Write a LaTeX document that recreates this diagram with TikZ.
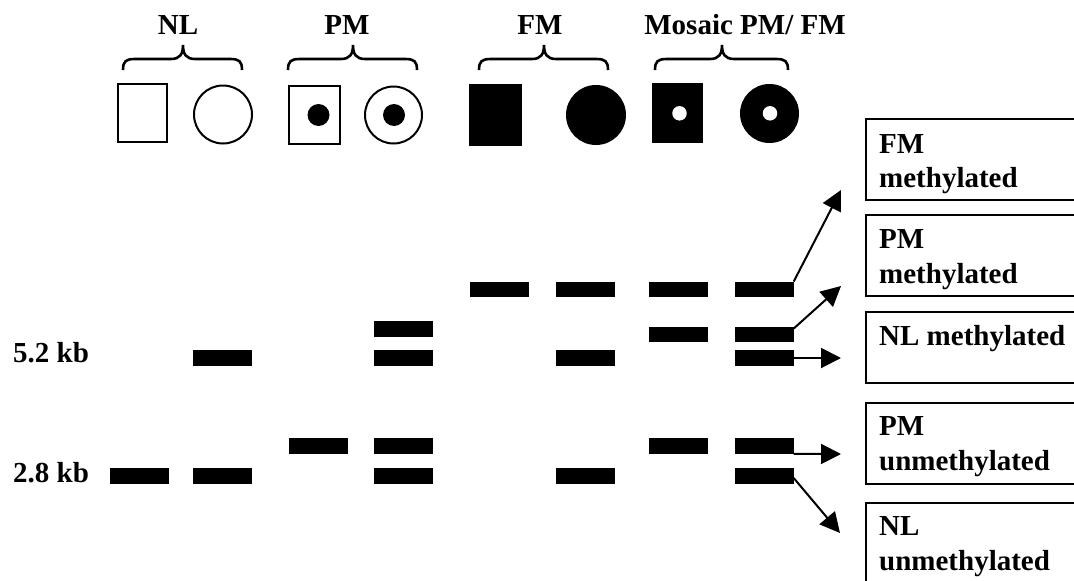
\documentclass[tikz,border=0pt]{standalone}
\usepackage{fontspec}
\setmainfont{Liberation Serif}
\usetikzlibrary{arrows.meta}
\tikzset{
  lbl/.style={font=\fontsize{29}{34}\selectfont\bfseries, inner sep=0pt},
  band/.style={fill=black, draw=none, minimum width=59pt, minimum height=15.5pt, inner sep=0pt},
  bracestyle/.style={line width=2.6pt},
  openshape/.style={draw=black, line width=2pt, inner sep=0pt},
  solidshape/.style={fill=black, draw=none, inner sep=0pt},
  dotb/.style={circle, fill=black, inner sep=0pt, minimum size=22pt},
  dotw/.style={circle, fill=white, inner sep=0pt, minimum size=14.5pt},
  boxframe/.style={draw=black, line width=2pt, inner sep=0pt, minimum width=230pt, anchor=north west},
  arr/.style={line width=2pt, -{Triangle[length=20pt,width=20pt]}}
}
\newcommand\brc[3]{\draw[bracestyle] (#1,70) .. controls (#1,61) and (#1+3,59) .. (#1+12,59) -- (#2-12,59) .. controls (#2-3,59) and (#2,54) .. (#2,45) .. controls (#2,54) and (#2+3,59) .. (#2+12,59) -- (#3-12,59) .. controls (#3-3,59) and (#3,61) .. (#3,70);}
\begin{document}
\begin{tikzpicture}[x=1pt,y=-1pt]
\clip (0,0) rectangle (1074,581);
\useasboundingbox (0,0) rectangle (1074,581);

% group labels
\node[lbl, anchor=base] (tNL) at (178,34) {NL};
\node[lbl, anchor=base] (tPM) at (347,34) {PM};
\node[lbl, anchor=base] (tFM) at (540,34) {FM};
\node[lbl, anchor=base] (tMO) at (745,34) {Mosaic PM/ FM};

% braces
\brc{123}{183}{242}
\brc{288}{353}{417}
\brc{479}{544}{608}
\brc{655}{722}{788}

% symbols
\node[openshape, rectangle, minimum width=49pt, minimum height=58pt] (sNLm) at (142.5,113) {};
\node[openshape, circle, minimum size=58pt] (sNLf) at (223,114.5) {};
\node[openshape, rectangle, minimum width=51pt, minimum height=58pt] (sPMm) at (314.5,115) {};
\node[dotb] (dPMm) at (318.5,115) {};
\node[openshape, circle, minimum size=57pt] (sPMf) at (393.5,115) {};
\node[dotb] (dPMf) at (394,115) {};
\node[solidshape, rectangle, minimum width=53pt, minimum height=62pt] (sFMm) at (495.5,115) {};
\node[solidshape, circle, minimum size=60pt] (sFMf) at (596,115) {};
\node[solidshape, rectangle, minimum width=51pt, minimum height=60pt] (sMOm) at (677.5,113) {};
\node[dotw] (dMOm) at (679.5,113.3) {};
\node[solidshape, circle, minimum size=59pt] (sMOf) at (769.5,113.5) {};
\node[dotw] (dMOf) at (770,113.3) {};

% size labels
\node[lbl, anchor=base west] (k52) at (13,362) {5.2 kb};
\node[lbl, anchor=base west] (k28) at (13,482) {2.8 kb};

% bands: lane x-centres 139.5 222.5 318.5 403.5 499.5 585.5 678.5 764.5
\node[band] (b1f) at (139.5,476) {};
\node[band] (b2d) at (222.5,358) {};
\node[band] (b2f) at (222.5,476) {};
\node[band] (b3e) at (318.5,446) {};
\node[band] (b4c) at (403.5,329) {};
\node[band] (b4d) at (403.5,358) {};
\node[band] (b4e) at (403.5,446) {};
\node[band] (b4f) at (403.5,476) {};
\node[band] (b5a) at (499.5,289.5) {};
\node[band] (b6a) at (585.5,289.5) {};
\node[band] (b6d) at (585.5,358) {};
\node[band] (b6f) at (585.5,476) {};
\node[band] (b7a) at (678.5,289.5) {};
\node[band] (b7b) at (678.5,334.5) {};
\node[band] (b7e) at (678.5,446) {};
\node[band] (b8a) at (764,289.5) {};
\node[band] (b8b) at (764,334.5) {};
\node[band] (b8d) at (764,358) {};
\node[band] (b8e) at (764,446) {};
\node[band] (b8f) at (764,476) {};

% result boxes
\node[boxframe, minimum height=81pt] (rFM) at (865,118) {};
\node[boxframe, minimum height=81pt] (rPMm) at (865,214) {};
\node[boxframe, minimum height=71pt] (rNLm) at (865,311) {};
\node[boxframe, minimum height=81pt] (rPMu) at (865,402) {};
\node[boxframe, minimum height=100pt] (rNLu) at (865,502) {};

\node[lbl, anchor=base west] (xFM1) at (879,153) {FM};
\node[lbl, anchor=base west] (xFM2) at (879,187) {methylated};
\node[lbl, anchor=base west] (xPM1) at (879,248) {PM};
\node[lbl, anchor=base west] (xPM2) at (879,283) {methylated};
\node[lbl, anchor=base west] (xNL1) at (879,345) {NL methylated};
\node[lbl, anchor=base west] (xPU1) at (879,435) {PM};
\node[lbl, anchor=base west] (xPU2) at (879,470) {unmethylated};
\node[lbl, anchor=base west] (xNU1) at (879,535) {NL};
\node[lbl, anchor=base west] (xNU2) at (879,570) {unmethylated};

% arrow ends
\coordinate (e1) at (841,190);
\coordinate (e2) at (841,286);
\coordinate (e3) at (841,358);
\coordinate (e4) at (841,454);
\coordinate (e5) at (840,533);

\draw[arr] (b8a.north east) -- (e1);
\draw[arr] ([yshift=-2pt]b8b.north east) -- (e2);
\draw[arr] (b8d.east) -- (e3);
\draw[arr] (b8e.south east) -- (e4);
\draw[arr] ([yshift=-2pt]b8f.east) -- (e5);
\end{tikzpicture}
\end{document}
